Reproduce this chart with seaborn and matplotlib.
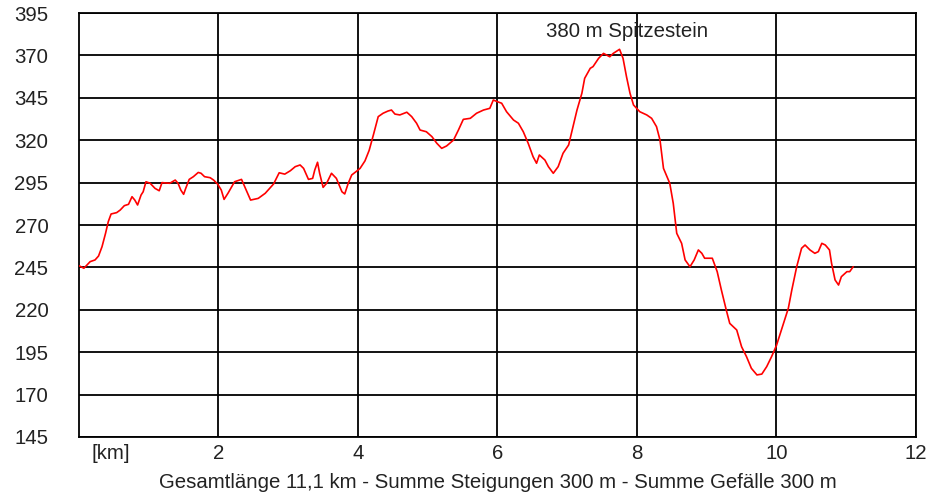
import matplotlib
matplotlib.use("Agg")
import matplotlib.pyplot as plt
import seaborn as sns
import pandas as pd

# Hoehenprofil
distanz_km = [0.00, 0.07, 0.16, 0.23, 0.28, 0.33, 0.38, 0.42, 0.46, 0.54, 0.59, 0.65, 0.71, 0.76,
              0.80, 0.84, 0.89, 0.92, 0.96, 1.02, 1.09, 1.15, 1.19, 1.30, 1.38, 1.42, 1.46, 1.50,
              1.53, 1.58, 1.64, 1.71, 1.75, 1.80, 1.88, 1.93, 1.99, 2.04, 2.08, 2.14, 2.23, 2.33,
              2.46, 2.57, 2.67, 2.79, 2.87, 2.95, 3.03, 3.10, 3.17, 3.22, 3.29, 3.35, 3.38, 3.42,
              3.45, 3.50, 3.55, 3.62, 3.69, 3.77, 3.81, 3.86, 3.91, 3.97, 4.03, 4.10, 4.16, 4.22,
              4.29, 4.36, 4.43, 4.48, 4.53, 4.60, 4.70, 4.77, 4.84, 4.89, 4.98, 5.06, 5.13, 5.20,
              5.27, 5.37, 5.44, 5.51, 5.61, 5.70, 5.80, 5.89, 5.94, 6.00, 6.06, 6.13, 6.23, 6.30,
              6.37, 6.44, 6.51, 6.56, 6.60, 6.68, 6.73, 6.80, 6.87, 6.94, 7.02, 7.06, 7.14, 7.21,
              7.25, 7.33, 7.37, 7.45, 7.52, 7.61, 7.66, 7.75, 7.80, 7.85, 7.90, 7.95, 8.04, 8.14,
              8.21, 8.28, 8.33, 8.38, 8.47, 8.52, 8.57, 8.64, 8.69, 8.76, 8.82, 8.88, 8.93, 8.97,
              9.08, 9.15, 9.21, 9.28, 9.33, 9.43, 9.50, 9.57, 9.64, 9.72, 9.79, 9.86, 9.93, 10.00,
              10.07, 10.17, 10.22, 10.29, 10.36, 10.41, 10.48, 10.55, 10.60, 10.65, 10.70, 10.76,
              10.79, 10.84, 10.89, 10.93, 11.01, 11.05, 11.10]
hoehe_m = [246, 244.5, 248.4, 249.4, 251.7, 257.2, 265, 272, 276.5, 277.3, 278.8, 281.4, 282.2, 286.7,
           284.7, 281.8, 287.7, 289.6, 295.5, 294.6, 291.6, 290.2, 295, 294.6, 296.5, 294.6, 290.6, 288.1,
           291.6, 296.9, 298.5, 301, 300.5, 298.5, 297.9, 296.5, 294, 290.6, 285.1, 289, 295.5, 296.9,
           284.7, 285.7, 288.7, 294.2, 300.8, 300, 302, 304.4, 305.4, 303.4, 296.9, 297.5, 302.4, 307,
           300.5, 292.2, 294.6, 300.5, 297.5, 289.6, 288.3, 294.6, 299.5, 301.4, 303.4, 307.8, 314, 323,
           333.9, 335.9, 337.2, 337.8, 335.4, 334.9, 336.5, 333.9, 330, 326, 325, 322.1, 318.2, 315.2,
           316.6, 320.1, 326, 332.3, 332.9, 335.9, 337.8, 338.8, 343.7, 342.7, 341.8, 336.8, 331.9, 330,
           325, 318.2, 310.3, 306.4, 311.3, 308.3, 304.4, 300.5, 304.4, 312.3, 317.2, 324.1, 337.8, 347.7,
           356.5, 362.4, 363.4, 368.3, 371.2, 369.2, 371.2, 373.6, 368.3, 357.4, 347.7, 340.8, 336.8, 334.9,
           332.9, 328, 320.1, 303.4, 294.6, 282.8, 265.1, 259.2, 249.4, 245.4, 249.4, 255.3, 253.3, 250.4,
           250.4, 242.5, 231.7, 219.9, 212, 208.1, 198.2, 192.4, 185.5, 181.6, 182.1, 186.5, 192.4, 199,
           208.1, 220.9, 231.7, 245.4, 256.3, 258.2, 255.3, 253.3, 254.3, 259.2, 258.2, 255.3,
           247.4, 237.6, 234.6, 239.5, 242.5, 242.5, 245.4]

x_ticks = [2, 4, 6, 8, 10, 12]
y_ticks = [145, 170, 195, 220, 245, 270, 295, 320, 345, 370, 395]
gipfel_text = "380 m Spitzestein"
untertitel = "Gesamtlänge 11,1 km - Summe Steigungen 300 m - Summe Gefälle 300 m"

sns.set_style("white")
plt.rcParams['font.family'] = ['Liberation Sans', 'DejaVu Sans']

df = pd.DataFrame({"km": distanz_km, "m": hoehe_m})

fig = plt.figure(figsize=(9.36, 4.93), dpi=100)
ax = fig.add_axes([0.0844, 0.1136, 0.8942, 0.86])

sns.lineplot(data=df, x="km", y="m", color="red", linewidth=1.2, estimator=None, sort=False, ax=ax, zorder=3)

fs = 14.7
ax.set_xlim(0, 12)
ax.set_ylim(145, 395)
ax.set_xticks(x_ticks)
ax.set_yticks(y_ticks)
ax.grid(True, color="black", linewidth=1.3)
ax.tick_params(length=0, labelsize=fs, labelcolor="#222222")
ax.tick_params(axis="y", pad=22)
ax.tick_params(axis="x", pad=5)
for s in ax.spines.values():
    s.set_color("black")
    s.set_linewidth(1.3)

ax.text(0.45, -0.017, "[km]", transform=ax.get_xaxis_transform(), ha="center", va="top",
        fontsize=fs, color="#222222")
ax.text(7.86, 384, gipfel_text, ha="center", va="center", fontsize=fs, color="#222222")
ax.set_xlabel(untertitel, fontsize=fs, color="#222222", labelpad=7)
ax.set_ylabel("")

fig.savefig("out.png", dpi=100)
